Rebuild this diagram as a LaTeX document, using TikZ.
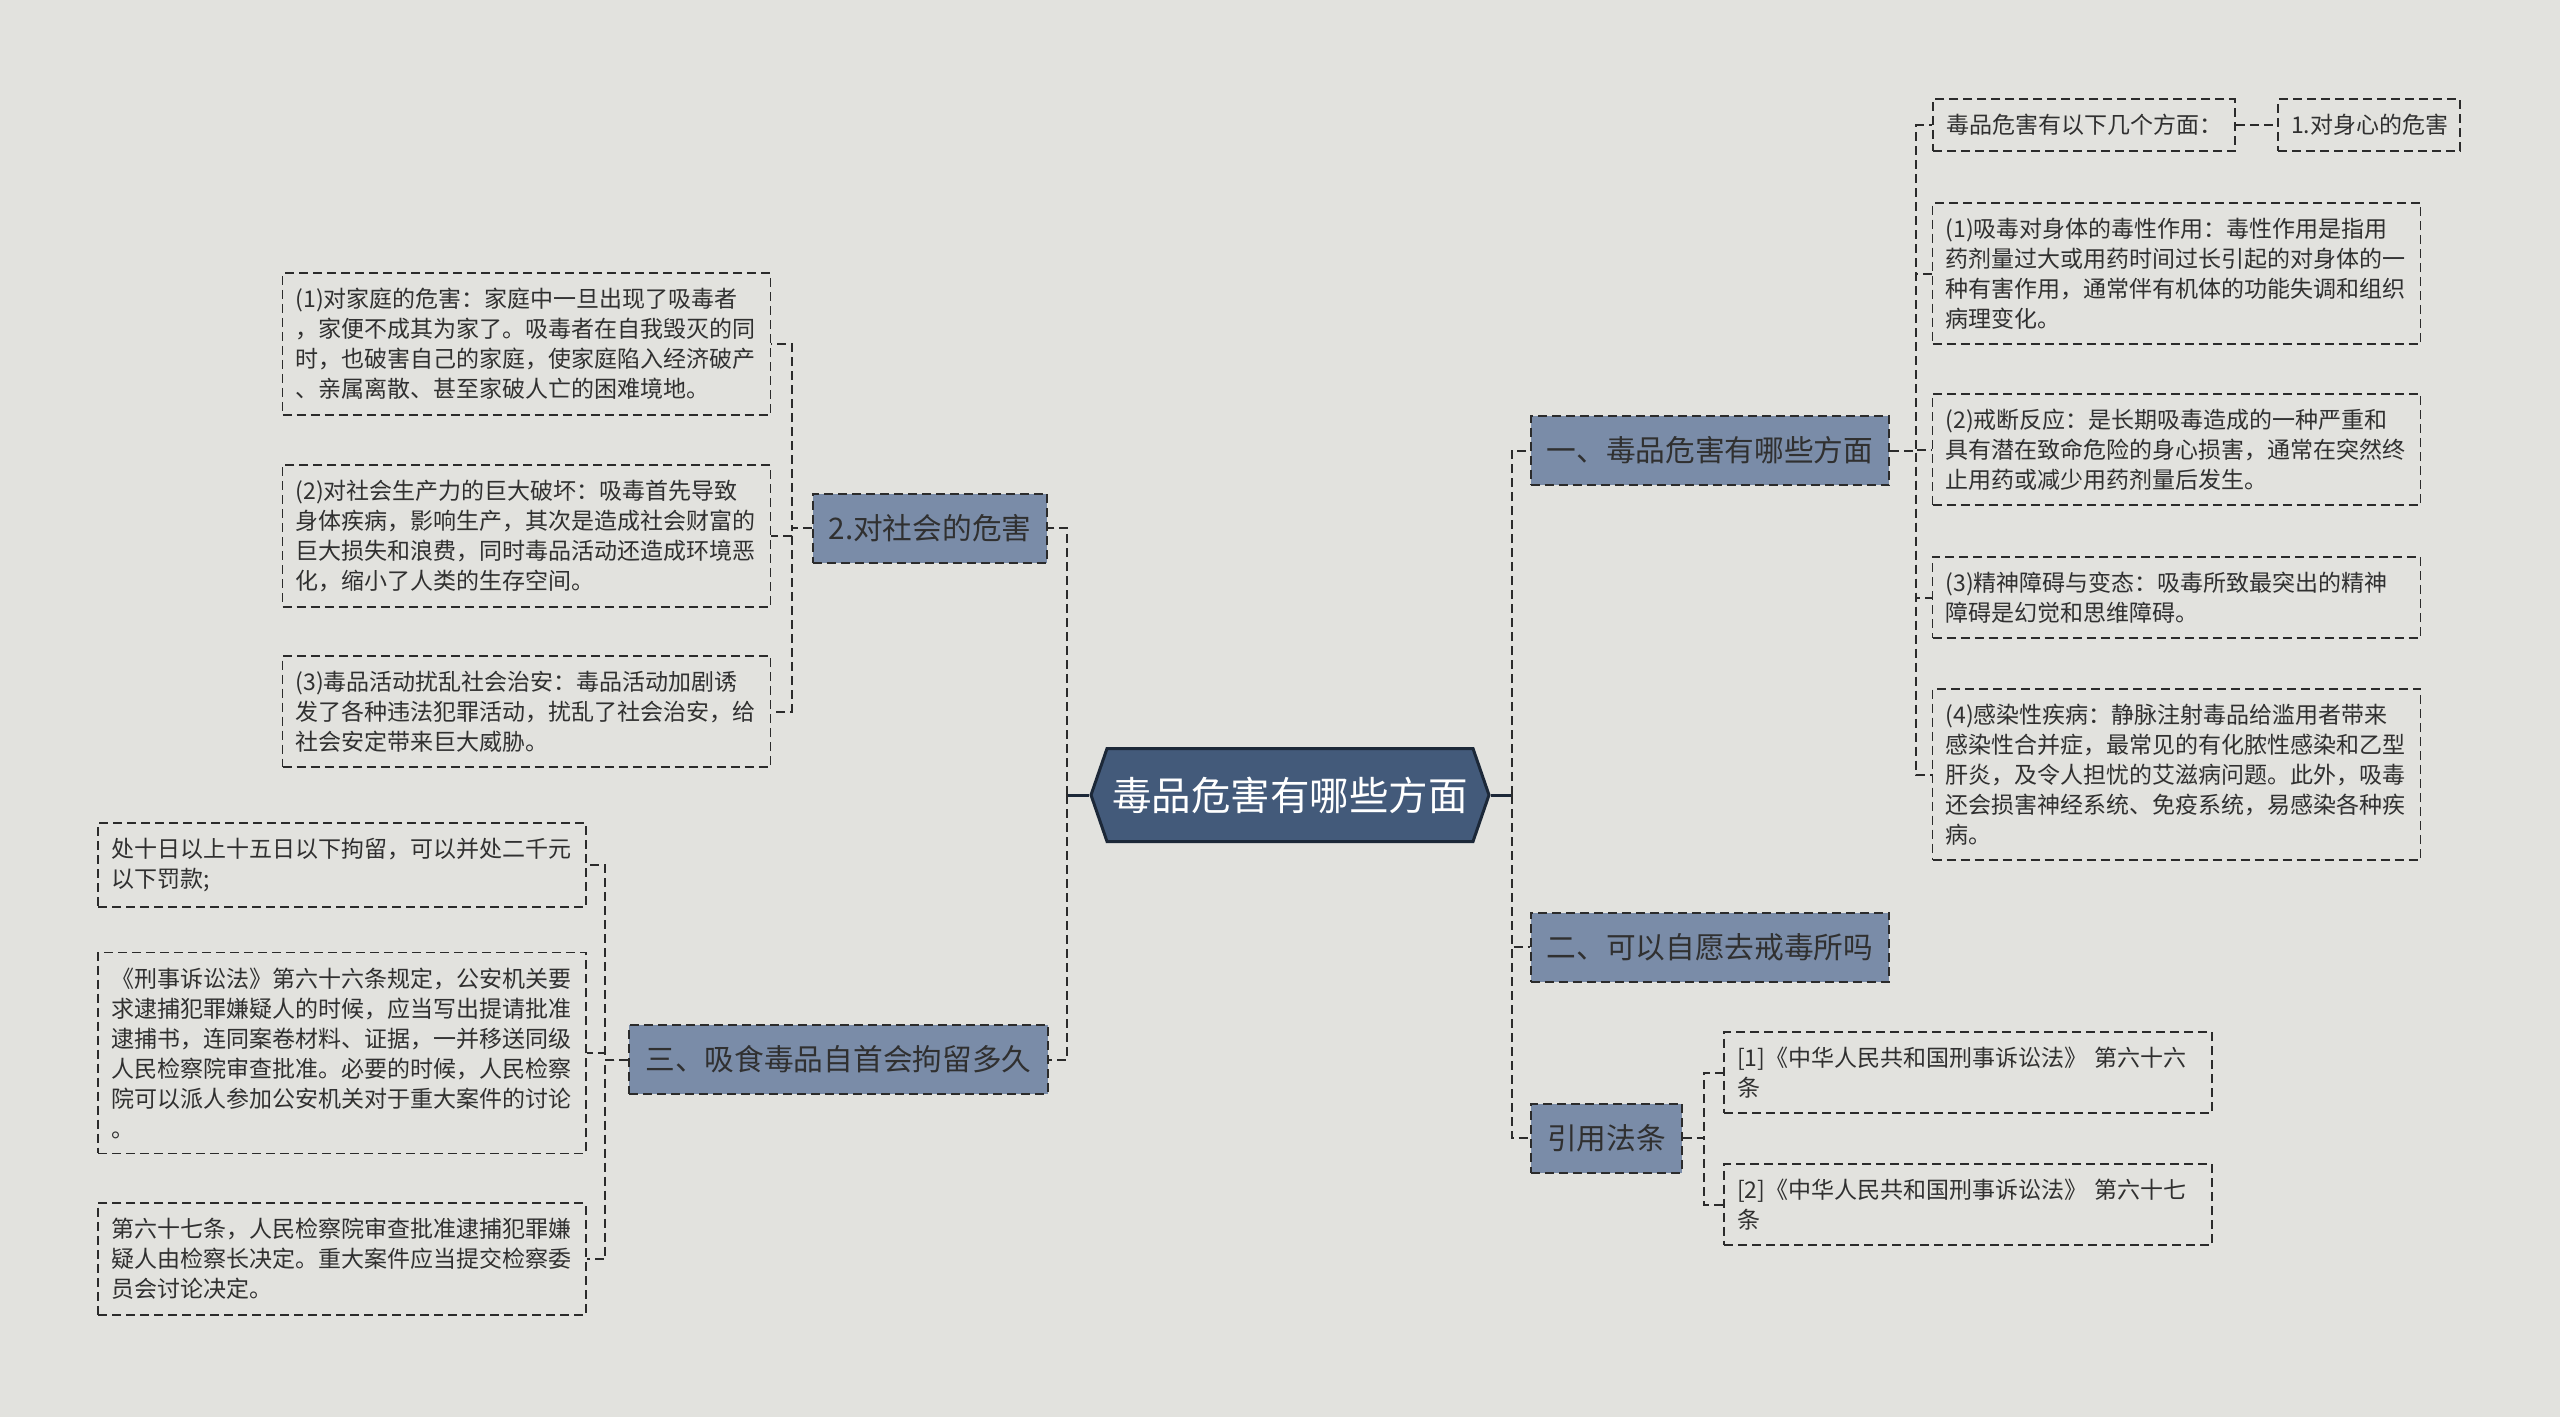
\documentclass[tikz,border=0pt]{standalone}
\usepackage{fontspec}
\setmainfont{Noto Sans CJK SC}
\usetikzlibrary{arrows.meta,shapes.symbols}
\definecolor{bgc}{HTML}{E2E2DE}
\definecolor{topicc}{HTML}{7A8CA8}
\definecolor{rootc}{HTML}{435A7A}
\definecolor{rootd}{HTML}{1C2838}
\definecolor{linec}{HTML}{2B2B2B}
\definecolor{textc}{HTML}{303030}
\begin{document}
\begin{tikzpicture}[x=1pt,y=-1pt,>=Stealth]
\tikzstyle{leaf}=[draw=linec,dash pattern=on 9pt off 5pt,line width=1.8pt,text=textc,align=left,text width=462pt,inner xsep=13pt,inner ysep=15pt,font=\fontsize{23}{30}\selectfont]
\tikzstyle{topic}=[draw=linec,dash pattern=on 9pt off 5pt,line width=2pt,fill=topicc,text=textc,minimum height=69pt,inner xsep=16pt,font=\fontsize{29.7}{36}\selectfont]
\tikzstyle{rootbox}=[signal,signal to=east and west,signal pointer angle=142,draw=rootd,line width=3pt,fill=rootc,text=white,minimum width=398pt,minimum height=93pt,inner xsep=4pt,font=\fontsize{39.5}{47}\selectfont]
\tikzstyle{dl}=[draw=linec,dash pattern=on 9pt off 5pt,line width=2pt]
\tikzstyle{stub}=[draw=rootd,line width=3pt]
\useasboundingbox (0,0) rectangle (2560,1417); \fill[bgc] (0,0) rectangle (2560,1417);
\node[rootbox] (root) at (1290,795) {毒品危害有哪些方面};
\node[topic] (soc) at (930,528) {2.对社会的危害}; \node[topic] (arr) at (838.5,1059.5) {三、吸食毒品自首会拘留多久};
\node[topic] (one) at (1710,450.5) {一、毒品危害有哪些方面}; \node[topic] (two) at (1710,947) {二、可以自愿去戒毒所吗}; \node[topic] (cite) at (1606.5,1138) {引用法条};
\node[leaf] (l1) at (526.5,344) {(1)对家庭的危害：家庭中一旦出现了吸毒者\\，家便不成其为家了。吸毒者在自我毁灭的同\\时，也破害自己的家庭，使家庭陷入经济破产\\、亲属离散、甚至家破人亡的困难境地。};
\node[leaf] (l2) at (526.5,536) {(2)对社会生产力的巨大破坏：吸毒首先导致\\身体疾病，影响生产，其次是造成社会财富的\\巨大损失和浪费，同时毒品活动还造成环境恶\\化，缩小了人类的生存空间。};
\node[leaf] (l3) at (526.5,711.5) {(3)毒品活动扰乱社会治安：毒品活动加剧诱\\发了各种违法犯罪活动，扰乱了社会治安，给\\社会安定带来巨大威胁。};
\node[leaf] (m1) at (342,865) {处十日以上十五日以下拘留，可以并处二千元\\以下罚款;};
\node[leaf] (m2) at (342,1053) {《刑事诉讼法》第六十六条规定，公安机关要\\求逮捕犯罪嫌疑人的时候，应当写出提请批准\\逮捕书，连同案卷材料、证据，一并移送同级\\人民检察院审查批准。必要的时候，人民检察\\院可以派人参加公安机关对于重大案件的讨论\\。};
\node[leaf] (m3) at (342,1259) {第六十七条，人民检察院审查批准逮捕犯罪嫌\\疑人由检察长决定。重大案件应当提交检察委\\员会讨论决定。};
\node[leaf,text width=276pt] (r0) at (2084,125) {毒品危害有以下几个方面：}; \node[leaf,text width=156pt] (r0b) at (2369,125) {1.对身心的危害};
\node[leaf] (r1) at (2176.5,273.5) {(1)吸毒对身体的毒性作用：毒性作用是指用\\药剂量过大或用药时间过长引起的对身体的一\\种有害作用，通常伴有机体的功能失调和组织\\病理变化。};
\node[leaf] (r2) at (2176.5,449.5) {(2)戒断反应：是长期吸毒造成的一种严重和\\具有潜在致命危险的身心损害，通常在突然终\\止用药或减少用药剂量后发生。};
\node[leaf] (r3) at (2176.5,597.5) {(3)精神障碍与变态：吸毒所致最突出的精神\\障碍是幻觉和思维障碍。};
\node[leaf] (r4) at (2176.5,774.5) {(4)感染性疾病：静脉注射毒品给滥用者带来\\感染性合并症，最常见的有化脓性感染和乙型\\肝炎，及令人担忧的艾滋病问题。此外，吸毒\\还会损害神经系统、免疫系统，易感染各种疾\\病。};
\node[leaf] (c1) at (1968,1072.5) {[1]《中华人民共和国刑事诉讼法》 第六十六\\条}; \node[leaf] (c2) at (1968,1204.5) {[2]《中华人民共和国刑事诉讼法》 第六十七\\条};
\draw[stub] (root.west) -- ++(-22,0) coordinate (lt); \draw[stub] (root.east) -- ++(21,0) coordinate (rt);
\draw[dl] (lt) |- (soc.east); \draw[dl] (lt) |- (arr.east);
\draw[dl] (rt) |- (one.west); \draw[dl] (rt) |- (two.west); \draw[dl] (rt) |- (cite.west);
\draw[dl] (soc.west) -- ++(-20,0) |- (l1.east); \draw[dl] (soc.west) -- ++(-20,0) |- (l2.east); \draw[dl] (soc.west) -- ++(-20,0) |- (l3.east);
\draw[dl] (arr.west) -- ++(-23,0) |- (m1.east); \draw[dl] (arr.west) -- ++(-23,0) |- (m2.east); \draw[dl] (arr.west) -- ++(-23,0) |- (m3.east);
\draw[dl] (one.east) -- ++(26,0) |- (r0.west); \draw[dl] (one.east) -- ++(26,0) |- (r1.west); \draw[dl] (one.east) -- ++(26,0) |- (r2.west); \draw[dl] (one.east) -- ++(26,0) |- (r3.west); \draw[dl] (one.east) -- ++(26,0) |- (r4.west);
\draw[dl] (r0.east) -- (r0b.west);
\draw[dl] (cite.east) -- ++(21,0) |- (c1.west); \draw[dl] (cite.east) -- ++(21,0) |- (c2.west);
\end{tikzpicture}
\end{document}
